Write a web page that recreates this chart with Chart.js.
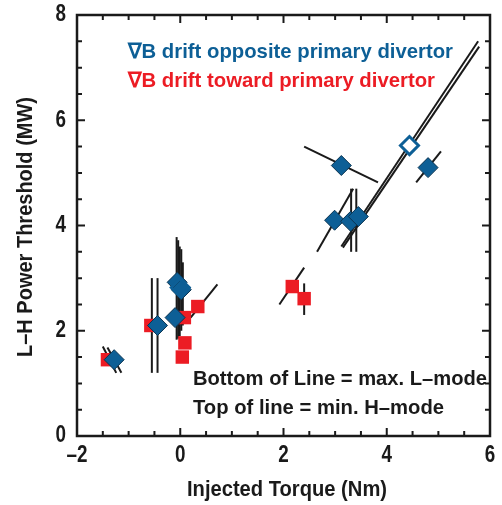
<!DOCTYPE html>
<html>
<head>
<meta charset="utf-8">
<script src="https://cdn.jsdelivr.net/npm/chart.js@4.4.0/dist/chart.umd.min.js"></script>
<style>
  html, body { margin: 0; padding: 0; background: #fff; }
</style>
</head>
<body>
<canvas id="chart" width="502" height="505"></canvas>
<script>
// Dados
const blueTorque = [-1.28, -0.44, -0.06, 0.02, -0.1, 2.99, 3.3, 3.45, 3.12, 4.8];
const bluePower  = [1.45, 2.1, 2.92, 2.78, 2.25, 4.1, 4.08, 4.17, 5.14, 5.1];

const openTorque = [0.0, 4.44];
const openPower  = [2.82, 5.52];

const redTorque = [-1.41, -0.57, 0.08, 0.09, 0.04, 0.34, 2.17, 2.4];
const redPower  = [1.45, 2.1, 2.25, 1.77, 1.5, 2.46, 2.84, 2.61];

// Segmentos: inicio (max. L-mode) -> fim (min. H-mode)
const lineStartTorque = [-1.5, -1.41, -0.55, -0.44, -0.07, -0.04, -0.01, 0.02, 0.05, 0.2, 1.92, 2.4, 3.83, 2.65, 3.31, 3.41, 3.12, 3.15, 4.57];
const lineStartPower  = [1.7, 1.68, 1.2, 1.2, 1.83, 1.85, 1.9, 2.0, 2.1, 2.25, 2.5, 2.3, 4.82, 3.5, 3.5, 3.5, 3.6, 3.58, 4.82];
const lineEndTorque   = [-1.24, -1.14, -0.55, -0.44, -0.07, -0.04, -0.01, 0.02, 0.05, 0.72, 2.4, 2.4, 2.4, 3.35, 3.31, 3.41, 5.77, 5.79, 5.05];
const lineEndPower    = [1.2, 1.2, 3.0, 3.0, 3.78, 3.72, 3.6, 3.55, 3.3, 2.88, 3.2, 2.9, 5.5, 4.7, 4.7, 4.7, 7.5, 7.4, 5.41];

const xTicks = [-2, 0, 2, 4, 6];
const yTicks = [0, 2, 4, 6, 8];

const BLUE = '#0d5f96';
const RED = '#ec1c24';
const FONT = "'Liberation Sans', Arial, sans-serif";

const toPoints = (xs, ys) => xs.map((x, i) => ({ x: x, y: ys[i] }));

const segmentSets = lineStartTorque.map((x0, i) => ({
    type: 'line',
    data: [{ x: x0, y: lineStartPower[i] }, { x: lineEndTorque[i], y: lineEndPower[i] }],
    borderColor: '#1a1a1a',
    borderWidth: 2,
    pointRadius: 0,
    showLine: true,
    order: 3
}));

// texto condensado (a fonte original e estreita)
function narrowText(ctx, text, x, y, squeeze) {
    ctx.save();
    ctx.translate(x, y);
    ctx.scale(squeeze, 1);
    ctx.fillText(text, 0, 0);
    ctx.restore();
}

// Moldura, ticks para dentro, rotulos e textos
const framePlugin = {
    id: 'frame',
    afterDatasetsDraw(chart) {
        const { ctx, chartArea: a, scales: { x, y } } = chart;
        ctx.save();
        ctx.strokeStyle = '#1a1a1a';
        ctx.lineWidth = 2;
        ctx.beginPath();
        for (let v = -2; v <= 6.001; v += 0.5) {
            const px = x.getPixelForValue(v);
            const len = Math.abs(v % 2) < 0.01 ? 8 : 5;
            ctx.moveTo(px, a.bottom); ctx.lineTo(px, a.bottom - len);
            ctx.moveTo(px, a.top); ctx.lineTo(px, a.top + len);
        }
        for (let v = 0; v <= 8.001; v += 0.5) {
            const py = y.getPixelForValue(v);
            const len = Math.abs(v % 2) < 0.01 ? 8 : 5;
            ctx.moveTo(a.left, py); ctx.lineTo(a.left + len, py);
            ctx.moveTo(a.right, py); ctx.lineTo(a.right - len, py);
        }
        ctx.stroke();
        ctx.lineWidth = 2.5;
        ctx.strokeRect(a.left, a.top, a.right - a.left, a.bottom - a.top);

        ctx.fillStyle = '#1a1a1a';
        ctx.font = 'bold 23px ' + FONT;
        ctx.textAlign = 'center';
        ctx.textBaseline = 'middle';
        xTicks.forEach(v => {
            narrowText(ctx, String(v).replace('-', '\u2013'), x.getPixelForValue(v), 456, 0.82);
        });
        ctx.textAlign = 'right';
        yTicks.forEach(v => {
            narrowText(ctx, String(v), 66, y.getPixelForValue(v), 0.82);
        });

        ctx.font = 'bold 22px ' + FONT;
        ctx.textAlign = 'center';
        narrowText(ctx, 'Injected Torque (Nm)', 287, 490, 200 / ctx.measureText('Injected Torque (Nm)').width);
        ctx.save();
        ctx.translate(26, 227);
        ctx.rotate(-Math.PI / 2);
        const yTitle = 'L\u2013H Power Threshold (MW)';
        narrowText(ctx, yTitle, 0, 0, 260 / ctx.measureText(yTitle).width);
        ctx.restore();

        ctx.textAlign = 'left';
        ctx.font = 'bold 21px ' + FONT;
        const fit = (t, w) => w / ctx.measureText(t).width;
        const leg1 = '\u2207B drift opposite primary divertor';
        const leg2 = '\u2207B drift toward primary divertor';
        ctx.fillStyle = BLUE;
        narrowText(ctx, leg1, 128, 52, fit(leg1, 325));
        ctx.fillStyle = RED;
        narrowText(ctx, leg2, 128, 81, fit(leg2, 307));

        const note1 = 'Bottom of Line = max. L\u2013mode';
        const note2 = 'Top of line = min. H\u2013mode';
        ctx.fillStyle = '#1a1a1a';
        narrowText(ctx, note1, 193, 379, fit(note1, 294));
        narrowText(ctx, note2, 193, 408, fit(note2, 251));
        ctx.restore();
    }
};

new Chart(document.getElementById('chart'), {
    type: 'scatter',
    data: {
        datasets: [
            {
                data: toPoints(openTorque, openPower),
                pointStyle: 'rectRot',
                pointRadius: 9,
                backgroundColor: ['rgba(0,0,0,0)', '#ffffff'],
                borderColor: BLUE,
                pointBorderWidth: 3,
                order: 0
            },
            {
                data: toPoints(blueTorque, bluePower),
                pointStyle: 'rectRot',
                pointRadius: 10,
                backgroundColor: BLUE,
                borderColor: '#0a3350',
                pointBorderWidth: 1,
                order: 1
            },
            {
                data: toPoints(redTorque, redPower),
                pointStyle: 'rect',
                pointRadius: 9.5,
                backgroundColor: RED,
                borderColor: RED,
                pointBorderWidth: 0,
                order: 2
            },
            ...segmentSets
        ]
    },
    options: {
        responsive: false,
        animation: false,
        devicePixelRatio: 1,
        layout: { padding: { left: 77, right: 5, top: 15, bottom: 69 } },
        scales: {
            x: { type: 'linear', min: -2, max: 6, display: false },
            y: { type: 'linear', min: 0, max: 8, display: false }
        },
        plugins: {
            legend: { display: false },
            tooltip: { enabled: false }
        }
    },
    plugins: [framePlugin]
});
</script>
</body>
</html>
